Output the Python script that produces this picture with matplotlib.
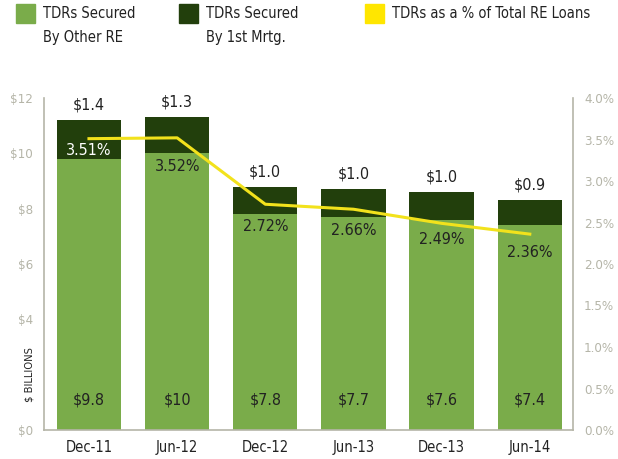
import matplotlib
matplotlib.use("Agg")
import matplotlib.pyplot as plt
import matplotlib.patches as mpatches
import numpy as np

periods = ["Dec-11", "Jun-12", "Dec-12", "Jun-13", "Dec-13", "Jun-14"]
other_re = [9.8, 10.0, 7.8, 7.7, 7.6, 7.4]
first_mrtg = [1.4, 1.3, 1.0, 1.0, 1.0, 0.9]
pct_re_loans = [3.51, 3.52, 2.72, 2.66, 2.49, 2.36]
other_lbl = ["$9.8", "$10", "$7.8", "$7.7", "$7.6", "$7.4"]
mrtg_lbl = ["$1.4", "$1.3", "$1.0", "$1.0", "$1.0", "$0.9"]
left_ticks = ["$0", "", "$4", "$6", "$8", "$10", "$12"]  # $2 slot holds the axis title

LIGHT = "#7aac4a"
DARK = "#223f0c"
YEL = "#f2e21c"
GRAY = "#b5b5a8"
TXT = "#222222"

plt.rcParams['font.family'] = ['DejaVu Sans']
plt.rcParams['font.stretch'] = 'condensed'

fig = plt.figure(figsize=(6.18, 4.59), dpi=100)
ax = fig.add_axes([44/618, 29/459, (573-44)/618, (430-98)/459])
x = np.arange(len(periods))
w = 0.73

ax.bar(x, other_re, w, color=LIGHT, zorder=2)
ax.bar(x, first_mrtg, w, bottom=other_re, color=DARK, zorder=2)

ax.set_xlim(-0.51, 5.49)
ax.set_ylim(0, 12)
ax.set_yticks(np.arange(0, 13, 2))
ax.set_yticklabels(left_ticks)
ax.set_xticks(x)
ax.set_xticklabels(periods, fontsize=10.5, color=TXT)
ax.tick_params(axis="y", length=0, labelcolor=GRAY, labelsize=9.5, pad=8)
ax.tick_params(axis="x", length=0, pad=7)
for s in ["top", "right"]:
    ax.spines[s].set_visible(False)
for s in ["left", "bottom"]:
    ax.spines[s].set_color(GRAY)
    ax.spines[s].set_linewidth(1.2)

# totals above bars, first-lien piece
for i in range(len(x)):
    top = other_re[i] + first_mrtg[i]
    ax.annotate(mrtg_lbl[i], (x[i], top), xytext=(0, 15), textcoords="offset pixels",
                ha="center", va="center", fontsize=11.5, color=TXT)
    ax.annotate(other_lbl[i], (x[i], 0), xytext=(0, 30), textcoords="offset pixels",
                ha="center", va="center", fontsize=11.5, color=TXT)

ax2 = ax.twinx()
ax2.set_ylim(0, 4.0)
ax2.set_yticks(np.arange(0, 4.01, 0.5))
ax2.set_yticklabels(["%.1f%%" % v for v in np.arange(0, 4.01, 0.5)])
ax2.tick_params(axis="y", length=0, labelcolor=GRAY, labelsize=9.5, pad=8)
for s in ["top", "left", "bottom"]:
    ax2.spines[s].set_visible(False)
ax2.spines["right"].set_color(GRAY)
ax2.spines["right"].set_linewidth(1.2)
ax2.plot(x, pct_re_loans, color=YEL, lw=2.2, zorder=3)

pct_dy = [-12, -29, -22, -21, -16, -18]
for i in range(len(x)):
    c = "white" if i == 0 else TXT
    ax2.annotate("%.2f%%" % pct_re_loans[i], (x[i], pct_re_loans[i]), xytext=(0, pct_dy[i]),
                 textcoords="offset pixels", ha="center", va="center", fontsize=11.5, color=c)

fig.text(30/618, 1 - 375/459, "$ BILLIONS", rotation=90, ha="center", va="center",
         fontsize=8, color=TXT)

# legend across the top
leg = [(16, LIGHT, "TDRs Secured\nBy Other RE"),
       (179, DARK, "TDRs Secured\nBy 1st Mrtg."),
       (365, "#ffe600", "TDRs as a % of Total RE Loans")]
for px, col, lab in leg:
    fig.patches.append(mpatches.Rectangle((px/618, 1 - 23/459), 19/618, 19/459,
                                          transform=fig.transFigure, color=col))
    fig.text((px + 27)/618, 1 - 6/459, lab, ha="left", va="top", fontsize=10.5,
             color=TXT, linespacing=1.75)

fig.savefig("out.png", dpi=100)
